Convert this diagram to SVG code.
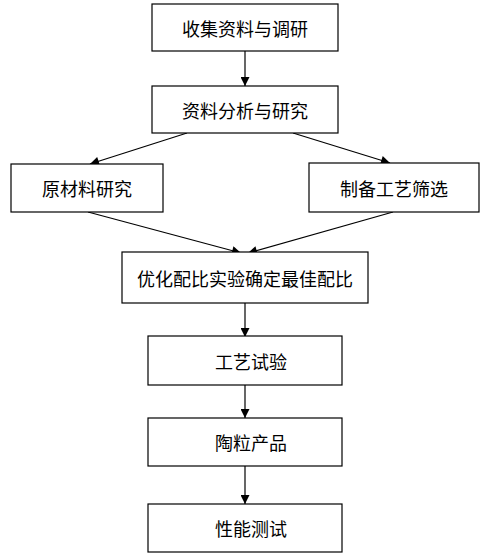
<svg xmlns="http://www.w3.org/2000/svg" width="487" height="555" viewBox="0 0 487 555">
<style>
.box{fill:#fff;stroke:#000;stroke-width:1.2}
.t{font-family:"Noto Sans CJK SC","Liberation Sans",sans-serif;font-size:18px;fill:#000;text-anchor:middle;dominant-baseline:central}
.c{stroke:#000;stroke-width:1.2;fill:none;marker-end:url(#ah)}
</style>
<defs>
<marker id="ah" viewBox="0 0 10 10" refX="10" refY="5" markerWidth="10" markerHeight="9" markerUnits="userSpaceOnUse" orient="auto">
<path d="M0,0 L10,5 L0,10 z" fill="#000"/>
</marker>
</defs>
<rect width="487" height="555" fill="#fff"/>
<g id="connectors">
<line class="c" x1="245" y1="51" x2="245" y2="86"/>
<line class="c" x1="187" y1="133" x2="90" y2="164"/>
<line class="c" x1="293" y1="133" x2="390" y2="163"/>
<line class="c" x1="88" y1="212" x2="241" y2="253"/>
<line class="c" x1="393" y1="212" x2="248" y2="253"/>
<line class="c" x1="245" y1="303" x2="245" y2="337"/>
<line class="c" x1="245" y1="385" x2="245" y2="418"/>
<line class="c" x1="245" y1="466" x2="245" y2="504"/>
</g>
<g id="n1"><rect class="box" x="152" y="4" width="186" height="47"/><text class="t" x="245" y="28">收集资料与调研</text></g>
<g id="n2"><rect class="box" x="152" y="86" width="186" height="47"/><text class="t" x="245" y="110">资料分析与研究</text></g>
<g id="n3"><rect class="box" x="11" y="164" width="152" height="48"/><text class="t" x="87" y="188">原材料研究</text></g>
<g id="n4"><rect class="box" x="309" y="163" width="170" height="49"/><text class="t" x="394" y="188">制备工艺筛选</text></g>
<g id="n5"><rect class="box" x="122" y="252" width="246" height="51"/><text class="t" x="245" y="278">优化配比实验确定最佳配比</text></g>
<g id="n6"><rect class="box" x="148" y="336" width="194" height="49"/><text class="t" x="251" y="361">工艺试验</text></g>
<g id="n7"><rect class="box" x="148" y="418" width="194" height="48"/><text class="t" x="251" y="442">陶粒产品</text></g>
<g id="n8"><rect class="box" x="148" y="504" width="194" height="48"/><text class="t" x="251" y="528">性能测试</text></g>
</svg>
